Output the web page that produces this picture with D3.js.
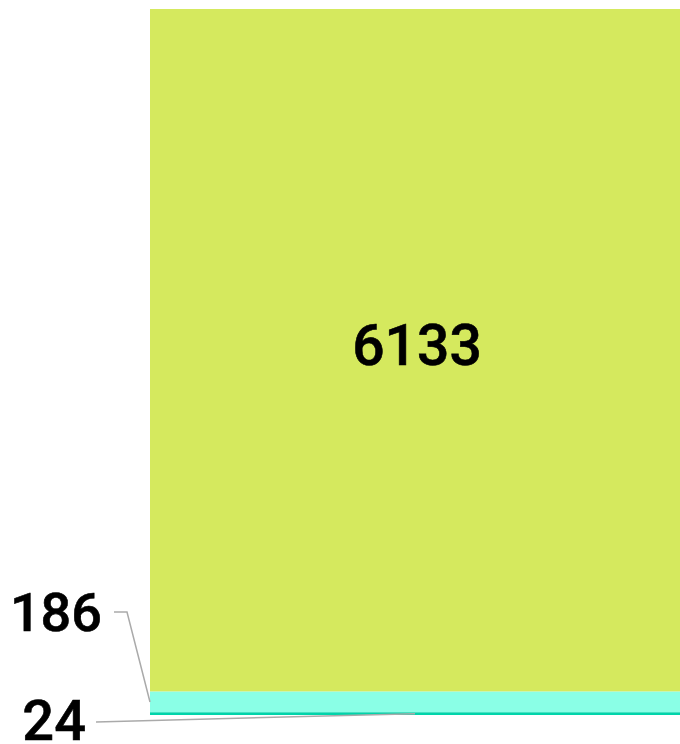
<!DOCTYPE html>
<html>
<head>
<meta charset="utf-8">
<script src="https://cdn.jsdelivr.net/npm/d3@7"></script>
<style>
  body { margin: 0; background: #fff; }
  text { font-family: Roboto, "Noto Sans", sans-serif; font-weight: 500; fill: #000; }
</style>
</head>
<body>
<svg width="680" height="744"></svg>
<script>
// stacked segments, top to bottom
var categories = ["a", "b", "c"];
var values = [6133, 186, 24];
var colors = ["#d5e95e", "#8affe6", "#00d4aa"];

var svg = d3.select("svg");
var x0 = 150, x1 = 680, yTop = 9, yBottom = 715;

var total = d3.sum(values);
var y = d3.scaleLinear().domain([0, total]).range([yBottom, yTop]);

// cumulative from bottom: last item at bottom
var stack = [];
var acc = 0;
for (var i = values.length - 1; i >= 0; i--) {
    stack[i] = { v0: acc, v1: acc + values[i], value: values[i], color: colors[i] };
    acc += values[i];
}

svg.selectAll("rect")
    .data(stack)
    .enter()
    .append("rect")
    .attr("x", x0)
    .attr("width", x1 - x0)
    .attr("y", function(d) { return y(d.v1); })
    .attr("height", function(d) { return y(d.v0) - y(d.v1); })
    .attr("fill", function(d) { return d.color; });

var cx = (x0 + x1) / 2;

// big label inside
svg.append("text")
    .attr("x", cx + 2)
    .attr("y", (y(stack[0].v0) + y(stack[0].v1)) / 2 - 5)
    .attr("dy", "0.35em")
    .attr("text-anchor", "middle")
    .style("font-size", "57px")
    .style("stroke", "#000")
    .style("stroke-width", 0.6)
    .text(values[0]);

// outside labels with leader lines
var mid1 = (y(stack[1].v0) + y(stack[1].v1)) / 2;
svg.append("path")
    .attr("d", "M114,612 L127,612 L" + x0 + "," + mid1)
    .attr("fill", "none")
    .attr("stroke", "#aaa")
    .attr("stroke-width", 1.5);
svg.append("text")
    .attr("x", 102)
    .attr("y", 631)
    .attr("text-anchor", "end")
    .style("font-size", "54px")
    .style("stroke", "#000")
    .style("stroke-width", 0.6)
    .text(values[1]);

var mid2 = (y(stack[2].v0) + y(stack[2].v1)) / 2;
svg.append("path")
    .attr("d", "M96,722 L" + cx + "," + mid2)
    .attr("fill", "none")
    .attr("stroke", "#aaa")
    .attr("stroke-width", 1.5);
svg.append("text")
    .attr("x", 86)
    .attr("y", 740)
    .attr("text-anchor", "end")
    .style("font-size", "56px")
    .style("stroke", "#000")
    .style("stroke-width", 0.6)
    .text(values[2]);
</script>
</body>
</html>
